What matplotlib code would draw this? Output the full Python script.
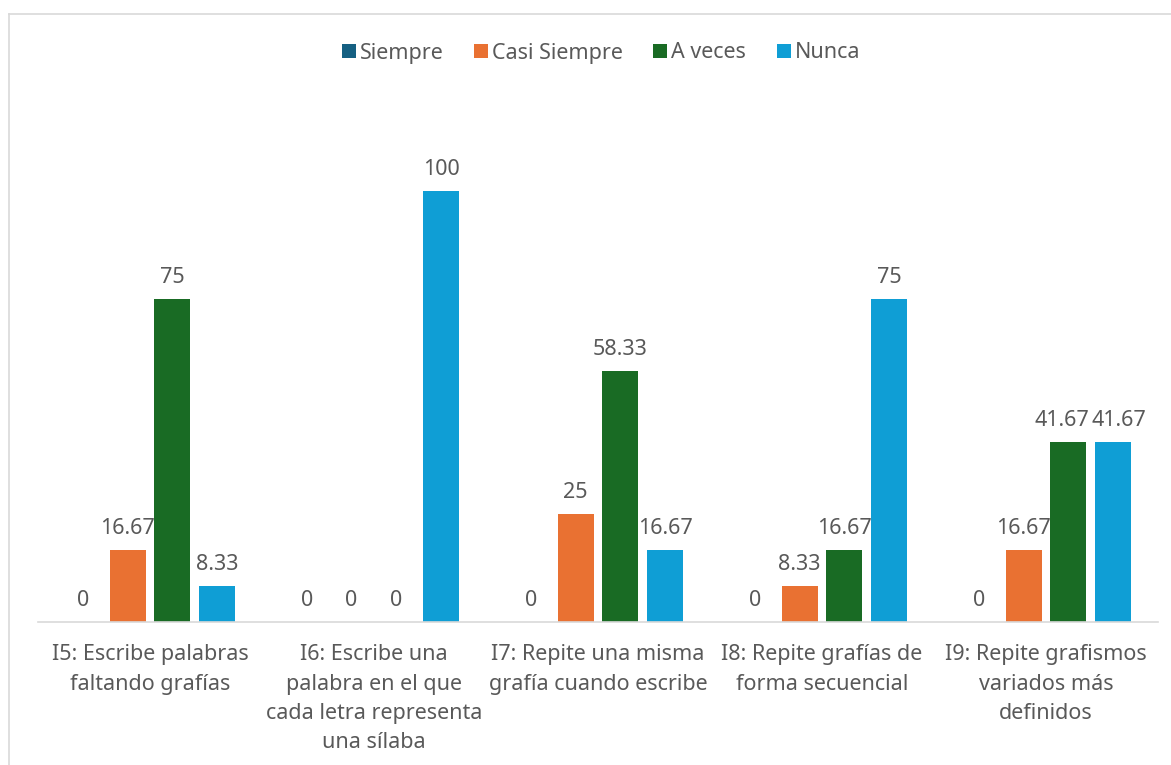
import matplotlib
matplotlib.use("Agg")
import matplotlib.pyplot as plt
from matplotlib.lines import Line2D
import numpy as np

categories = ["I5: Escribe palabras\nfaltando grafías",
              "I6: Escribe una\npalabra en el que\ncada letra representa\nuna sílaba",
              "I7: Repite una misma\ngrafía cuando escribe",
              "I8: Repite grafías de\nforma secuencial",
              "I9: Repite grafismos\nvariados más\ndefinidos"]
series_names = ["Siempre", "Casi Siempre", "A veces", "Nunca"]
siempre = [0, 0, 0, 0, 0]
casi_siempre = [16.67, 0, 25, 8.33, 16.67]
a_veces = [75, 0, 58.33, 16.67, 41.67]
nunca = [8.33, 100, 16.67, 75, 41.67]
label_text = [["0", "0", "0", "0", "0"],
              ["16.67", "0", "25", "8.33", "16.67"],
              ["75", "0", "58.33", "16.67", "41.67"],
              ["8.33", "100", "16.67", "75", "41.67"]]
colors = ["#156082", "#E97132", "#196B24", "#0F9ED5"]

plt.rcParams['font.family'] = ['Noto Sans', 'DejaVu Sans']
txt = "#595959"
fs = 15.5

W, H = 1171, 765
fig = plt.figure(figsize=(W / 100, H / 100), dpi=100)
ax = fig.add_axes([38 / W, 1 - 622 / H, (1158 - 38) / W, (622 - 105) / H])

x = np.arange(len(categories))
data = [siempre, casi_siempre, a_veces, nunca]
for i, (vals, c, name) in enumerate(zip(data, colors, series_names)):
    pos = x + (i - 1.5) * 0.2
    ax.bar(pos, vals, width=0.16, color=c, label=name)
    for j, (p, v, t) in enumerate(zip(pos, vals, label_text[i])):
        dx = 0
        # nudge apart labels of neighbouring bars with equal non-zero height
        if v > 0 and i > 0 and data[i - 1][j] == v:
            dx = 4
        if v > 0 and i < 3 and data[i + 1][j] == v:
            dx = -5
        ax.annotate(t, (p, v), xytext=(dx, 8), textcoords="offset points",
                    ha="center", va="bottom", fontsize=fs, color=txt)

ax.set_xlim(-0.5, 4.5)
ax.set_ylim(0, 120)
ax.set_xticks(x)
ax.set_xticklabels(categories, fontsize=fs, color=txt, linespacing=1.52)
ax.tick_params(axis="x", length=0, pad=16)
ax.set_yticks([])
for s in ["top", "right", "left"]:
    ax.spines[s].set_visible(False)
ax.spines["bottom"].set_color("#D9D9D9")
ax.spines["bottom"].set_linewidth(1.2)

leg = fig.legend(loc="center", bbox_to_anchor=(601 / W, 1 - 53 / H), ncol=4,
                 frameon=False, fontsize=fs, handlelength=0.65, handleheight=0.65,
                 handletextpad=0.2, columnspacing=1.4)
for t in leg.get_texts():
    t.set_color(txt)

# chart border (top and left visible)
fig.add_artist(Line2D([9 / W, 1.0], [1 - 14 / H, 1 - 14 / H], transform=fig.transFigure,
                      color="#D9D9D9", lw=1.2))
fig.add_artist(Line2D([9 / W, 9 / W], [0, 1 - 14 / H], transform=fig.transFigure,
                      color="#D9D9D9", lw=1.2))

fig.savefig("out.png", dpi=100, facecolor="white")
